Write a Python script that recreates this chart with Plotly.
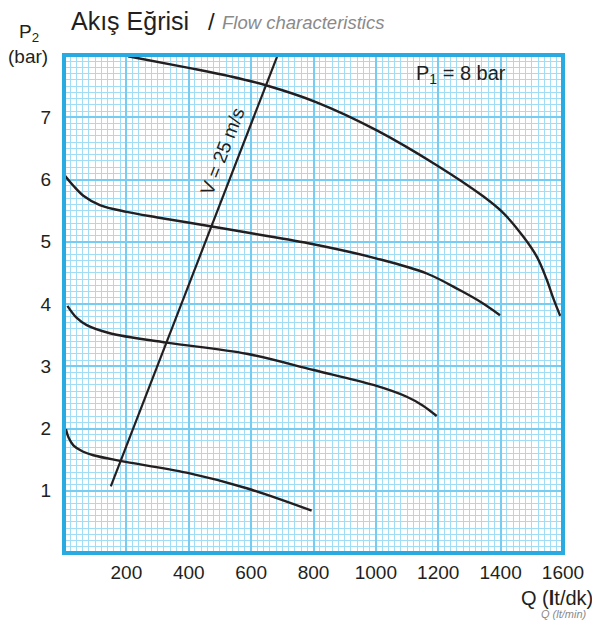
import plotly.graph_objects as go

# ---- data ----
q_curve1 = [205, 404, 530, 650, 810, 1003, 1195, 1344, 1409, 1473, 1516, 1548, 1569, 1591]
p_curve1 = [7.98, 7.79, 7.66, 7.51, 7.24, 6.79, 6.23, 5.73, 5.46, 5.08, 4.76, 4.39, 4.09, 3.81]

q_curve2 = [0, 30, 62, 115, 201, 300, 474, 596, 800, 1003, 1163, 1270, 1340, 1398]
p_curve2 = [6.08, 5.90, 5.74, 5.59, 5.48, 5.39, 5.245, 5.14, 4.96, 4.73, 4.49, 4.22, 4.02, 3.82]

q_curve3 = [11, 40, 73, 147, 329, 586, 800, 992, 1099, 1150, 1195]
p_curve3 = [3.97, 3.78, 3.66, 3.53, 3.38, 3.20, 2.94, 2.70, 2.51, 2.37, 2.20]

q_curve4 = [6, 15, 30, 60, 94, 180, 393, 586, 794]
p_curve4 = [1.99, 1.85, 1.73, 1.63, 1.57, 1.48, 1.29, 1.04, 0.68]

q_v25 = [150, 683]
p_v25 = [1.07, 7.97]

x_tick_vals = [200, 400, 600, 800, 1000, 1200, 1400, 1600]
y_tick_vals = [1, 2, 3, 4, 5, 6, 7]

# ---- layout geometry (page body has an 8px margin) ----
OFF = 8
W, H = 600 - OFF, 622 - OFF
L, R, T, B = 64 - OFF, 37, 55 - OFF, 69
PW, PH = W - L - R, H - T - B


def px(x):
    return (x - 64) / PW


def py(y):
    return (553 - y) / PH


DARK = "#231f20"
FONT = "Liberation Sans, Arial, Helvetica, sans-serif"
LINE_BLUE = "#29abe2"

fig = go.Figure()
for qs, ps in [(q_curve1, p_curve1), (q_curve2, p_curve2), (q_curve3, p_curve3),
               (q_curve4, p_curve4)]:
    fig.add_trace(go.Scatter(x=qs, y=ps, mode="lines",
                             line=dict(color=DARK, width=2.4, shape="spline", smoothing=1.0),
                             hoverinfo="skip", showlegend=False))
fig.add_trace(go.Scatter(x=q_v25, y=p_v25, mode="lines", line=dict(color=DARK, width=2.2),
                         hoverinfo="skip", showlegend=False))

fig.update_layout(
    width=W, height=H,
    margin=dict(l=L, r=R, t=T, b=B),
    paper_bgcolor="white", plot_bgcolor="white",
    font=dict(family=FONT, color=DARK),
    xaxis=dict(range=[0, 1600], tickvals=x_tick_vals, ticktext=[str(v) for v in x_tick_vals],
               showgrid=True, gridcolor="#76cdf1", gridwidth=1.6, zeroline=False,
               minor=dict(dtick=20, showgrid=True, gridcolor="#a2ddf6", gridwidth=1),
               ticks="", tickfont=dict(size=19, color=DARK), ticklabelstandoff=6,
               fixedrange=True),
    yaxis=dict(range=[0, 8], tickvals=y_tick_vals, ticktext=[str(v) for v in y_tick_vals],
               showgrid=True, gridcolor="#76cdf1", gridwidth=1.6, zeroline=False,
               minor=dict(dtick=0.1, showgrid=True, gridcolor="#a2ddf6", gridwidth=1),
               ticks="", tickfont=dict(size=19, color=DARK), ticklabelstandoff=12,
               fixedrange=True),
    shapes=[dict(type="rect", xref="paper", yref="paper", x0=0, x1=1, y0=0, y1=1,
                 line=dict(color=LINE_BLUE, width=4), layer="above")],
)

ann = []
ann.append(dict(text="Akış Eğrisi", x=px(69), y=py(21), xref="paper", yref="paper",
                xanchor="left", yanchor="middle", showarrow=False,
                font=dict(size=25, color=DARK, family=FONT)))
ann.append(dict(text="/", x=px(206), y=py(21), xref="paper", yref="paper",
                xanchor="left", yanchor="middle", showarrow=False,
                font=dict(size=24, color=DARK, family=FONT)))
ann.append(dict(text="<i>Flow characteristics</i>", x=px(220), y=py(22), xref="paper", yref="paper",
                xanchor="left", yanchor="middle", showarrow=False,
                font=dict(size=18.5, color="#8a8a8a", family=FONT)))
ann.append(dict(text="P<sub>2</sub>", x=px(29), y=py(33), xref="paper", yref="paper",
                xanchor="center", yanchor="middle", showarrow=False,
                font=dict(size=19, color=DARK, family=FONT)))
ann.append(dict(text="(bar)", x=px(28), y=py(56), xref="paper", yref="paper",
                xanchor="center", yanchor="middle", showarrow=False,
                font=dict(size=19, color=DARK, family=FONT)))
ann.append(dict(text="Q (<b>l</b>t/dk)", x=px(595), y=py(598), xref="paper", yref="paper",
                xanchor="right", yanchor="middle", showarrow=False,
                font=dict(size=20, color=DARK, family=FONT)))
ann.append(dict(text="<i>Q (lt/min)</i>", x=px(589), y=py(614), xref="paper", yref="paper",
                xanchor="right", yanchor="middle", showarrow=False,
                font=dict(size=11, color="#8a8a8a", family=FONT)))
ann.append(dict(text="P<sub>1</sub> = 8 bar", x=1273, y=7.68, xref="x", yref="y",
                xanchor="center", yanchor="middle", showarrow=False,
                font=dict(size=20, color=DARK, family=FONT)))
ann.append(dict(text="V = 25 m/s", x=508, y=6.45, xref="x", yref="y",
                xanchor="center", yanchor="middle", showarrow=False, textangle=-69,
                font=dict(size=19, color=DARK, family=FONT)))
fig.update_layout(annotations=ann)

fig.write_html("out.html")
